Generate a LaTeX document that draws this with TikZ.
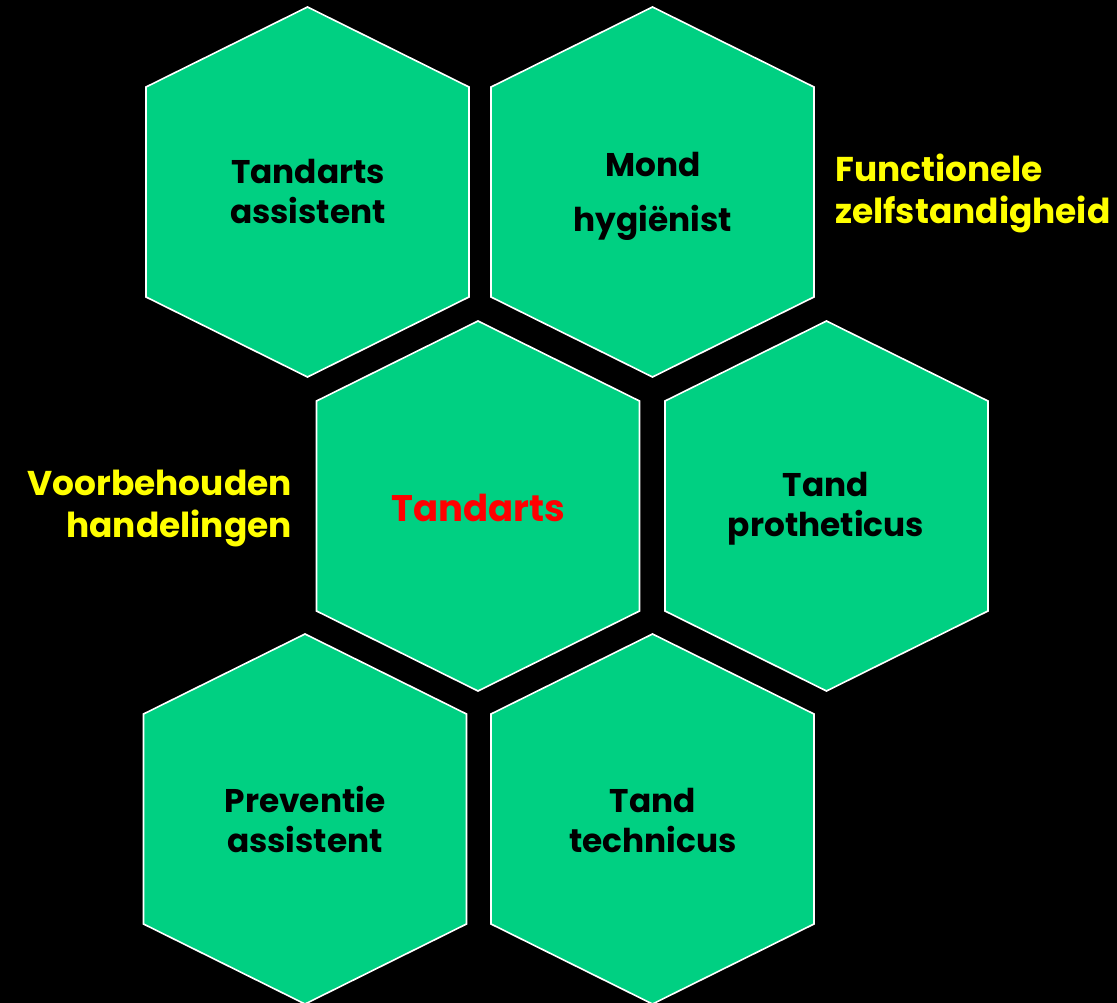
\documentclass[tikz,border=0pt]{standalone}
\usepackage{fontspec}
\setmainfont{Poppins}[BoldFont={* Bold}]
\usetikzlibrary{calc}
\definecolor{hexgreen}{RGB}{0,208,130}
\definecolor{lblyellow}{RGB}{255,255,0}
\definecolor{lblred}{RGB}{255,0,0}
\newcommand\hexstrut{\rule[-30pt]{0pt}{60pt}}
\newcommand\freelines{\lineskiplimit=-200pt\relax}
\tikzset{
  hexshape/.style={fill=hexgreen, draw=white, line width=1.6pt, line join=miter},
  hextext/.style={inner sep=0pt, align=center, text=black,
    font=\bfseries\fontsize{32.8}{40}\selectfont\freelines},
  hexwide/.style={hextext, font=\bfseries\fontsize{32.8}{55}\selectfont\freelines},
  redtext/.style={inner sep=0pt, text=lblred,
    font=\bfseries\fontsize{37}{44}\selectfont},
  sidetext/.style={inner sep=0pt, text=lblyellow,
    font=\bfseries\fontsize{34.4}{42}\selectfont\freelines},
}
\newcommand\hexagon[1]{%
  \draw[hexshape] ($(#1)+(0,-185)$) -- ($(#1)+(161.5,-105)$) -- ($(#1)+(161.5,105)$)
    -- ($(#1)+(0,185)$) -- ($(#1)+(-161.5,105)$) -- ($(#1)+(-161.5,-105)$) -- cycle;}
\begin{document}
\begin{tikzpicture}[x=1pt,y=-1pt]
\fill[black] (0,0) rectangle (1117,1003);
\useasboundingbox (0,0) rectangle (1117,1003);
% hexagon centres
\coordinate (h1) at (307.5,192);
\coordinate (h2) at (652.5,192);
\coordinate (h3) at (478,506);
\coordinate (h4) at (826.5,506);
\coordinate (h5) at (305,819);
\coordinate (h6) at (652.5,819);
\foreach \h in {h1,h2,h3,h4,h5,h6} {\hexagon{\h}}
% texts
\node[hextext] (t1) at (308,204) {\hexstrut Tandarts\\\hexstrut assistent};
\node[hexwide] (t2) at (653,204.5) {\hexstrut Mond\\\hexstrut hygiënist};
\node[redtext, anchor=base] (t3) at (478,521) {Tandarts};
\node[hextext] (t4) at (826,516.5) {\hexstrut Tand\\\hexstrut protheticus};
\node[hextext] (t5) at (305,832) {\hexstrut Preventie\\\hexstrut assistent};
\node[hextext] (t6) at (653,832) {\hexstrut Tand\\\hexstrut technicus};
\node[sidetext, align=right, anchor=east] (s1) at (292,516.5) {\hexstrut Voorbehouden\\\hexstrut handelingen};
\node[sidetext, align=left, anchor=west] (s2) at (835,203) {\hexstrut Functionele\\\hexstrut zelfstandigheid};
\end{tikzpicture}
\end{document}
